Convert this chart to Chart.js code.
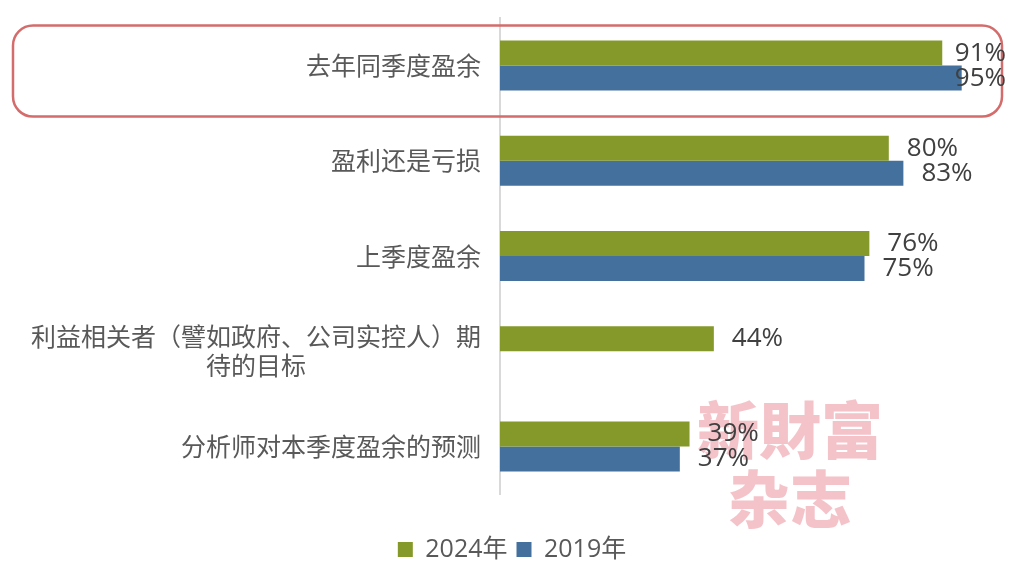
<!DOCTYPE html>
<html lang="zh">
<head>
  <meta charset="UTF-8" />
  <title>盈余基准</title>
  <script src="https://cdn.jsdelivr.net/npm/chart.js"></script>
  <style>
    body { margin: 0; background: #fff; }
    #wrap { width: 1014px; height: 574px; position: relative; }
  </style>
</head>
<body>
  <div id="wrap"><canvas id="chart"></canvas></div>

  <script>
    // données
    const categories = [
      ['去年同季度盈余'],
      ['盈利还是亏损'],
      ['上季度盈余'],
      ['利益相关者（譬如政府、公司实控人）期', '待的目标'],
      ['分析师对本季度盈余的预测']
    ];
    const seriesNames = ['2024年', '2019年'];
    const values2024 = [91, 80, 76, 44, 39];
    const values2019 = [95, 83, 75, null, 37];

    const GREEN = '#84992a';
    const BLUE = '#43709d';
    const CJK = '"Open Sans", "Noto Sans CJK SC", sans-serif';

    // étiquettes, filigrane et cadre arrondi
    const decor = {
      id: 'decor',
      afterDatasetsDraw(chart) {
        const ctx = chart.ctx;
        const ys = chart.scales.y;
        ctx.save();

        // filigrane
        ctx.fillStyle = 'rgba(238, 158, 168, 0.62)';
        ctx.font = '900 62px "Noto Sans CJK SC", sans-serif';
        ctx.textAlign = 'center';
        ctx.textBaseline = 'middle';
        ctx.fillText('新財富', 790, 430);
        ctx.fillText('杂志', 790, 499);

        // cadre autour de la première catégorie
        const cy = ys.getPixelForValue(0);
        ctx.strokeStyle = '#d46c6c';
        ctx.lineWidth = 2.5;
        ctx.beginPath();
        ctx.roundRect(13, cy - 40, chart.width - 25, 91, 20);
        ctx.stroke();

        // valeurs
        ctx.fillStyle = '#404040';
        ctx.font = '26px ' + CJK;
        ctx.textAlign = 'left';
        chart.data.datasets.forEach((ds, i) => {
          chart.getDatasetMeta(i).data.forEach((bar, j) => {
            if (ds.data[j] == null) return;
            const txt = ds.data[j] + '%';
            const w = ctx.measureText(txt).width;
            const x = Math.min(bar.x + 18, chart.width - 8 - w);
            ctx.fillText(txt, x, bar.y);
          });
        });
        ctx.restore();
      },
      afterDraw(chart) {
        const ctx = chart.ctx;
        const ys = chart.scales.y;
        const right = chart.chartArea.left - 19;
        ctx.save();
        ctx.fillStyle = '#595959';
        ctx.font = '25px "Noto Sans CJK SC", sans-serif';
        ctx.textAlign = 'center';
        ctx.textBaseline = 'middle';
        categories.forEach((lines, i) => {
          const y = ys.getPixelForValue(i);
          const maxW = Math.max(...lines.map(l => ctx.measureText(l).width));
          const lh = 29;
          lines.forEach((l, k) => {
            const ly = y + (k - (lines.length - 1) / 2) * lh;
            ctx.fillText(l, right - maxW / 2, ly);
          });
        });
        ctx.restore();
      }
    };

    const ctx = document.getElementById('chart').getContext('2d');
    const chart = new Chart(ctx, {
      type: 'bar',
      data: {
        labels: categories.map(c => c.join('')),
        datasets: [
          { label: seriesNames[0], data: values2024, backgroundColor: GREEN },
          { label: seriesNames[1], data: values2019, backgroundColor: BLUE }
        ]
      },
      options: {
        indexAxis: 'y',
        responsive: true,
        maintainAspectRatio: false,
        animation: false,
        categoryPercentage: 0.525,
        barPercentage: 1,
        layout: { padding: { top: 18, right: 28, left: 38, bottom: 2 } },
        scales: {
          x: { display: false, min: 0, max: 100 },
          y: {
            ticks: { display: false },
            grid: { display: false, drawTicks: false },
            border: { display: true, color: '#d9d9d9', width: 2 },
            afterFit: s => { s.width = 462; }
          }
        },
        plugins: {
          legend: {
            position: 'bottom',
            // titre vide qui sert d'espace au-dessus de la légende
            title: { display: true, text: ' ', font: { size: 10 }, padding: 11 },
            labels: {
              boxWidth: 15,
              boxHeight: 15,
              padding: 9,
              color: '#595959',
              font: { size: 25, family: CJK }
            }
          },
          tooltip: { enabled: false }
        }
      },
      plugins: [decor]
    });
  </script>
</body>
</html>
